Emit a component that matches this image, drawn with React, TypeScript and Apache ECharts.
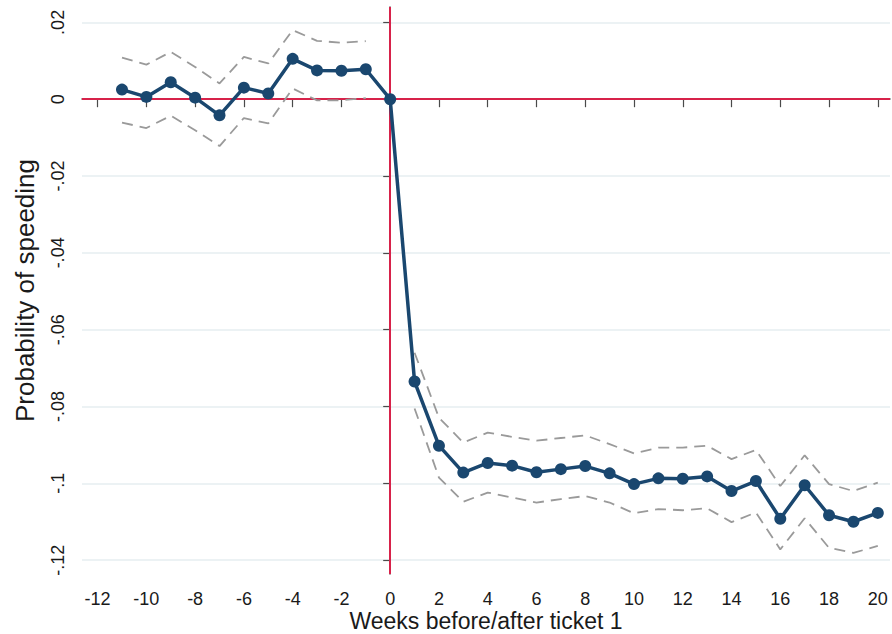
import React, { useEffect, useRef } from "react";
import * as echarts from "echarts";

const weeks = [-11, -10, -9, -8, -7, -6, -5, -4, -3, -2, -1, 0, 1, 2, 3, 4, 5, 6, 7, 8, 9, 10, 11, 12, 13, 14, 15, 16, 17, 18, 19, 20];
const estimate = [0.0025, 0.0006, 0.0044, 0.0004, -0.0042, 0.003, 0.0015, 0.0105, 0.0075, 0.0074, 0.0078, 0,
  -0.0735, -0.0902, -0.0972, -0.0947, -0.0954, -0.0971, -0.0963, -0.0955, -0.0974, -0.1002, -0.0987, -0.0988, -0.0982, -0.102, -0.0994, -0.1092, -0.1005, -0.1083, -0.11, -0.1077];

const preWeeks = [-11, -10, -9, -8, -7, -6, -5, -4, -3, -2, -1];
const preUpper = [0.0108, 0.009, 0.0123, 0.0084, 0.0041, 0.011, 0.0093, 0.018, 0.0152, 0.0147, 0.0151];
const preLower = [-0.0061, -0.0075, -0.0043, -0.0081, -0.0122, -0.0049, -0.0063, 0.0028, -0.0003, -0.0003, 0.0003];

const postWeeks = [1, 2, 3, 4, 5, 6, 7, 8, 9, 10, 11, 12, 13, 14, 15, 16, 17, 18, 19, 20];
const postUpper = [-0.066, -0.0829, -0.0894, -0.0868, -0.0879, -0.0889, -0.0882, -0.0875, -0.0898, -0.0922, -0.0907, -0.0907, -0.0902, -0.0937, -0.0913, -0.1007, -0.0927, -0.1002, -0.102, -0.0998];
const postLower = [-0.0805, -0.0985, -0.1048, -0.1024, -0.1037, -0.105, -0.1041, -0.1033, -0.105, -0.1078, -0.1067, -0.107, -0.1065, -0.1101, -0.1076, -0.1172, -0.1091, -0.1168, -0.1181, -0.1163];

const xTicks = [-12, -10, -8, -6, -4, -2, 0, 2, 4, 6, 8, 10, 12, 14, 16, 18, 20];
const yTicks = [-0.12, -0.1, -0.08, -0.06, -0.04, -0.02, 0, 0.02];

const FONT = "'Liberation Sans', Arial, sans-serif";

function fmtY(v: number): string {
  const r = Math.round(v * 100) / 100;
  if (r === 0) return "0";
  const s = String(Math.abs(r)).replace(/^0/, "");
  return (r < 0 ? "-" : "") + s;
}

function pairs(xs: number[], ys: number[]) {
  return xs.map((x, i) => [x, ys[i]]);
}

export default function App() {
  const ref = useRef<HTMLDivElement>(null);
  useEffect(() => {
    if (!ref.current) return;
    const chart = echarts.init(ref.current, null, { renderer: "svg" });
    const dashStyle = { color: "#9a9a9a", width: 1.8, type: [11, 7] as any };
    const ciSeries = (name: string, xs: number[], ys: number[]) => ({
      name,
      type: "line",
      data: pairs(xs, ys),
      symbol: "none",
      lineStyle: dashStyle,
      z: 2,
      silent: true,
    });
    chart.setOption({
      animation: false,
      backgroundColor: "#ffffff",
      grid: { left: 82, right: 2, top: 7, bottom: 60, containLabel: false, outerBoundsMode: "none" },
      xAxis: {
        type: "value",
        min: -12.64,
        max: 20.5,
        name: "Weeks before/after ticket 1",
        nameLocation: "middle",
        nameGap: 35,
        nameMoveOverlap: false,
        nameTextStyle: { fontFamily: FONT, fontSize: 23, color: "#1a1a1a" },
        axisLine: { show: true, lineStyle: { color: "#4a4a4a", width: 1.5 } },
        axisTick: { show: true, customValues: xTicks, length: 8, lineStyle: { color: "#4a4a4a", width: 1.2 } },
        axisLabel: { customValues: xTicks, fontFamily: FONT, fontSize: 18, color: "#1a1a1a", margin: 16 },
        splitLine: { show: false },
      },
      yAxis: {
        type: "value",
        min: -0.1236,
        max: 0.024,
        name: "Probability of speeding",
        nameLocation: "middle",
        nameGap: 44,
        nameMoveOverlap: false,
        nameTextStyle: { fontFamily: FONT, fontSize: 26, color: "#1a1a1a" },
        axisLine: { show: true, lineStyle: { color: "#4a4a4a", width: 1.5 } },
        axisTick: { show: true, customValues: yTicks, length: 7, lineStyle: { color: "#4a4a4a", width: 1.2 } },
        axisLabel: { customValues: yTicks, rotate: 90, fontFamily: FONT, fontSize: 18, color: "#1a1a1a", margin: 15, formatter: (v: number) => fmtY(v) },
        splitLine: { show: true, lineStyle: { color: "#e6eef1", width: 1.5 } },
      },
      series: [
        ciSeries("preUpper", preWeeks, preUpper),
        ciSeries("preLower", preWeeks, preLower),
        ciSeries("postUpper", postWeeks, postUpper),
        ciSeries("postLower", postWeeks, postLower),
        {
          name: "estimate",
          type: "line",
          data: pairs(weeks, estimate),
          symbol: "circle",
          symbolSize: 12,
          itemStyle: { color: "#1a476f" },
          lineStyle: { color: "#1a476f", width: 3.5 },
          z: 5,
          markLine: {
            silent: true,
            symbol: "none",
            label: { show: false },
            lineStyle: { color: "#d7224a", width: 2, type: "solid" },
            data: [{ xAxis: 0 }, { yAxis: 0 }],
            z: 1,
          },
        },
      ],
    });
    return () => chart.dispose();
  }, []);
  return <div ref={ref} style={{ width: 892, height: 634, position: "absolute", left: 0, top: 0 }} />;
}
